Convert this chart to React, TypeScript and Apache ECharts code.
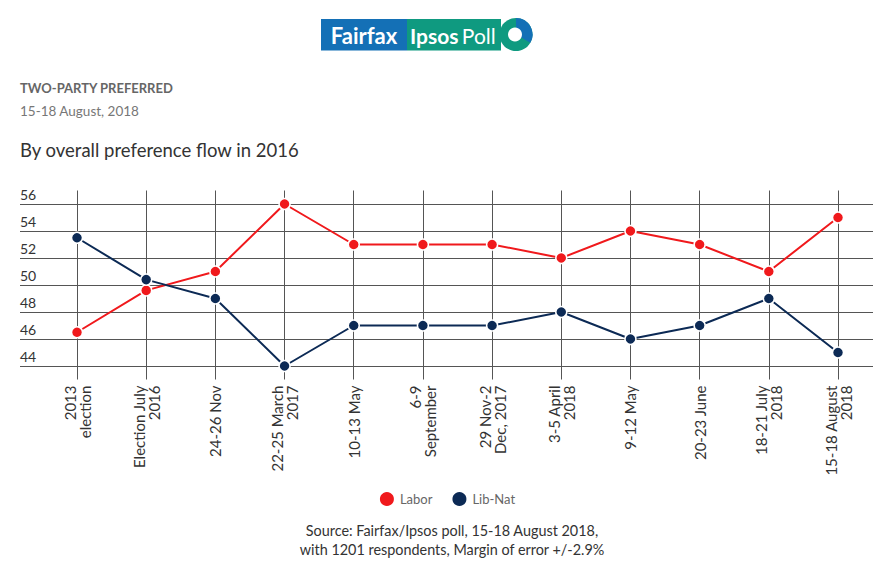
import React, { useEffect, useRef } from "react";
import * as echarts from "echarts";

const categories = [
  "2013\nelection",
  "Election July\n2016",
  "24-26 Nov",
  "22-25 March\n2017",
  "10-13 May",
  "6-9\nSeptember",
  "29 Nov-2\nDec, 2017",
  "3-5 April\n2018",
  "9-12 May",
  "20-23 June",
  "18-21 July\n2018",
  "15-18 August\n2018",
];
const labor = [46.5, 49.6, 51, 56, 53, 53, 53, 52, 54, 53, 51, 55];
const libNat = [53.5, 50.4, 49, 44, 47, 47, 47, 48, 46, 47, 49, 45];

const FONT = "Lato, 'Noto Sans', sans-serif";
const RED = "#f0191c";
const NAVY = "#0c2a55";
const GRID = "#555555";

export default function App() {
  const ref = useRef<HTMLDivElement>(null);
  useEffect(() => {
    if (!ref.current) return;
    const chart = echarts.init(ref.current, null, { renderer: "svg" });
    const mkSeries = (name: string, data: number[], color: string) => ({
      name,
      type: "line",
      xAxisIndex: 0,
      yAxisIndex: 0,
      data,
      symbol: "circle",
      symbolSize: 11,
      lineStyle: { color, width: 2 },
      itemStyle: { color, borderColor: "#fff", borderWidth: 1.5 },
      z: 5,
    });
    chart.setOption({
      animation: false,
      backgroundColor: "#fff",
      textStyle: { fontFamily: FONT },
      grid: [
        { left: 77, right: 55, top: 190.5, height: 189 },
        { left: 20, right: 20, top: 204, height: 162 },
      ],
      xAxis: [
        {
          type: "category",
          gridIndex: 0,
          data: categories,
          boundaryGap: false,
          axisLine: { show: false },
          axisTick: { show: false },
          splitLine: { show: true, interval: 0, lineStyle: { color: GRID, width: 1 } },
          axisLabel: {
            interval: 0,
            rotate: 90,
            margin: 6,
            color: "#333",
            fontSize: 15,
            lineHeight: 15,
            fontFamily: FONT,
          },
        },
        { type: "value", gridIndex: 1, show: false, min: 0, max: 1 },
      ],
      yAxis: [
        { type: "value", gridIndex: 0, min: 43, max: 57, show: false },
        {
          type: "value",
          gridIndex: 1,
          min: 44,
          max: 56,
          interval: 2,
          axisLine: { show: false },
          axisTick: { show: false },
          splitLine: { show: true, lineStyle: { color: GRID, width: 1 } },
          axisLabel: {
            inside: true,
            margin: 0,
            align: "left",
            verticalAlign: "bottom",
            padding: [0, 0, 3, 0],
            color: "#333",
            fontSize: 14,
            fontFamily: FONT,
          },
        },
      ],
      legend: {
        top: 485,
        left: "center",
        icon: "circle",
        itemWidth: 16,
        itemHeight: 16,
        itemGap: 18,
        data: ["Labor", "Lib-Nat"],
        textStyle: { color: "#666", fontSize: 13, fontFamily: FONT },
      },
      series: [mkSeries("Labor", labor, RED), mkSeries("Lib-Nat", libNat, NAVY)],
      graphic: [
        { type: "rect", shape: { x: 321, y: 19, width: 86, height: 31.5 }, style: { fill: "#1470b6" } },
        { type: "rect", shape: { x: 407, y: 19, width: 94, height: 31.5 }, style: { fill: "#0f9a80" } },
        { type: "circle", shape: { cx: 516, cy: 34.5, r: 16.5 }, style: { fill: "#0f9a80" } },
        {
          type: "sector",
          shape: { cx: 516, cy: 34.5, r: 16.5, r0: 0, startAngle: -Math.PI / 2, endAngle: Math.PI / 6, clockwise: true },
          style: { fill: "#1470b6" },
        },
        { type: "circle", shape: { cx: 515, cy: 34.5, r: 7 }, style: { fill: "#fff" } },
        {
          type: "text",
          x: 364,
          y: 35,
          style: { text: "Fairfax", fill: "#fff", font: `bold 22px ${FONT}`, align: "center", verticalAlign: "middle" },
        },
        {
          type: "text",
          x: 410,
          y: 35,
          style: {
            text: "{b|Ipsos} {r|Poll}",
            fill: "#fff",
            align: "left",
            verticalAlign: "middle",
            rich: {
              b: { fontFamily: FONT, fontWeight: "bold", fontSize: 21, fill: "#fff" },
              r: { fontFamily: FONT, fontWeight: "normal", fontSize: 21, fill: "#fff" },
            },
          },
        },
        {
          type: "text",
          x: 20,
          y: 88,
          style: { text: "TWO-PARTY PREFERRED", fill: "#666", font: `bold 13px ${FONT}`, verticalAlign: "middle" },
        },
        {
          type: "text",
          x: 20,
          y: 111,
          style: { text: "15-18 August, 2018", fill: "#777", font: `13.5px ${FONT}`, verticalAlign: "middle" },
        },
        {
          type: "text",
          x: 20,
          y: 150,
          style: { text: "By overall preference flow in 2016", fill: "#333", font: `18.5px ${FONT}`, verticalAlign: "middle" },
        },
        {
          type: "text",
          x: 452,
          y: 540,
          style: {
            text: "Source: Fairfax/Ipsos poll, 15-18 August 2018,\nwith 1201 respondents, Margin of error +/-2.9%",
            fill: "#333",
            font: `14.4px ${FONT}`,
            lineHeight: 19,
            align: "center",
            verticalAlign: "middle",
          },
        },
      ],
    });
    return () => chart.dispose();
  }, []);
  return (
    <div
      ref={ref}
      style={{ position: "fixed", left: 0, top: 0, width: 893, height: 572 }}
    />
  );
}
